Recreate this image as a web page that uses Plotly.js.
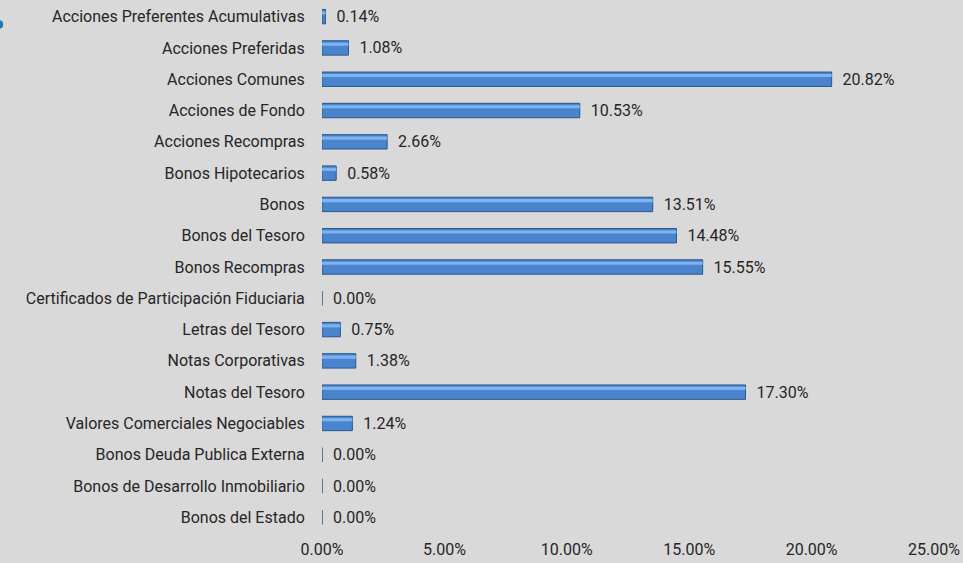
<!DOCTYPE html>
<html>
<head>
<meta charset="utf-8">
<script src="https://cdn.plot.ly/plotly-3.0.1.min.js"></script>
<style>
  body { margin: 0; background: #d9d9d9; }
  #chart { width: 963px; height: 563px; }
</style>
</head>
<body>
<div id="chart"></div>
<script>
// categories, top to bottom
var categories = [
    "Acciones Preferentes Acumulativas",
    "Acciones Preferidas",
    "Acciones Comunes",
    "Acciones de Fondo",
    "Acciones Recompras",
    "Bonos Hipotecarios",
    "Bonos",
    "Bonos del Tesoro",
    "Bonos Recompras",
    "Certificados de Participación Fiduciaria",
    "Letras del Tesoro",
    "Notas Corporativas",
    "Notas del Tesoro",
    "Valores Comerciales Negociables",
    "Bonos Deuda Publica Externa",
    "Bonos de Desarrollo Inmobiliario",
    "Bonos del Estado"
];

// share of each instrument, in percent
var shares = [0.14, 1.08, 20.82, 10.53, 2.66, 0.58, 13.51, 14.48, 15.55,
              0.00, 0.75, 1.38, 17.30, 1.24, 0.00, 0.00, 0.00];

var tickValues = [0, 5, 10, 15, 20, 25];
var tickLabels = tickValues.map(v => v.toFixed(2) + "%");

var fontFamily = "Roboto, Open Sans, sans-serif";
var fontSize = 16;

// main bar
var trace = {
    type: "bar",
    orientation: "h",
    x: shares,
    y: categories,
    width: 0.46,
    marker: {color: "#4a84cc", line: {color: "#2b568c", width: 1}},
    text: shares.map(v => "  " + v.toFixed(2) + "%"),
    textposition: "outside",
    constraintext: "none",
    cliponaxis: false,
    textfont: {family: fontFamily, size: fontSize, color: "#262626"},
    hoverinfo: "skip"
};

// lighter stripe on the upper half to mimic the bevel
var shine = {
    type: "bar",
    orientation: "h",
    x: shares,
    y: categories,
    width: 0.1,
    offset: -0.17,
    marker: {color: "#7db3f0", line: {width: 0}},
    hoverinfo: "skip"
};

var data = [trace, shine];

var layout = {
    width: 963,
    height: 563,
    paper_bgcolor: "#d9d9d9",
    plot_bgcolor: "#d9d9d9",
    showlegend: false,
    barmode: "overlay",
    margin: {l: 322, r: 29, t: 1, b: 30},
    font: {family: fontFamily, size: fontSize, color: "#262626"},
    xaxis: {
        range: [0, 25],
        tickvals: tickValues,
        ticktext: tickLabels,
        showgrid: false,
        zeroline: false,
        showline: false,
        ticks: "outside",
        ticklen: 2,
        tickcolor: "rgba(0,0,0,0)",
        tickfont: {family: fontFamily, size: fontSize, color: "#262626"}
    },
    yaxis: {
        autorange: "reversed",
        showgrid: false,
        zeroline: false,
        showline: false,
        ticks: "outside",
        ticklen: 13,
        tickcolor: "rgba(0,0,0,0)",
        tickfont: {family: fontFamily, size: fontSize, color: "#262626"}
    },
    shapes: [
        // fragment of a blue mark cut off at the left edge
        {type: "circle", xref: "paper", yref: "paper",
         x0: -0.534, x1: -0.521, y0: 0.948, y1: 0.964,
         fillcolor: "#1f77b4", line: {width: 0}}
    ]
};

Plotly.newPlot("chart", data, layout, {displayModeBar: false});
</script>
</body>
</html>
